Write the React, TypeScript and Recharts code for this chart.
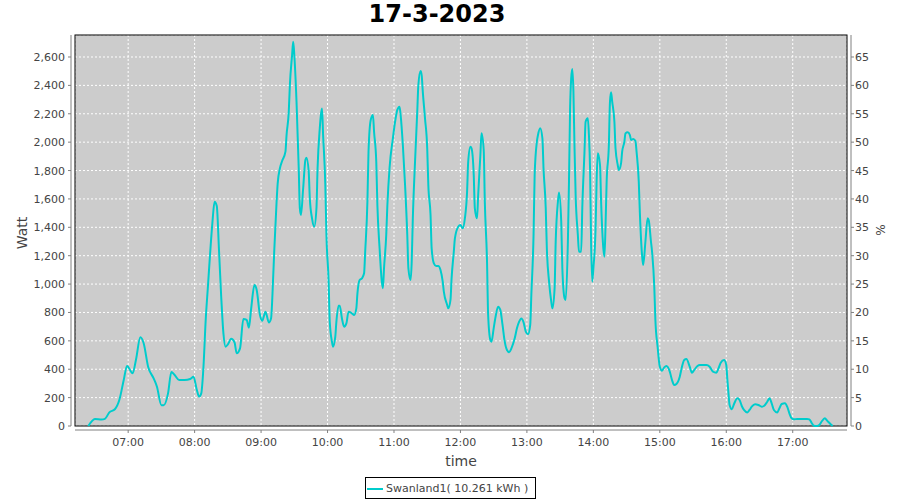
import React from 'react';
import { LineChart, Line, XAxis, YAxis, CartesianGrid, Legend, Customized } from 'recharts';

// minutes since midnight
const minutes = [
  384, 390, 396, 399, 403, 408, 412, 416, 419, 424, 427, 431, 434, 438, 443, 446, 450, 452, 456, 459,
  462, 466, 471, 476, 479, 482, 484, 486, 488, 490, 492, 494, 496, 498, 500, 502, 504, 506, 508, 510,
  513, 516, 518, 521, 524, 527, 529, 531, 534, 536, 539, 541, 544, 547, 549, 551, 552, 554, 555, 557,
  559, 562, 563, 565, 566, 568, 569, 570, 572, 574, 575, 576, 578, 580, 581, 583, 584, 586, 588, 590,
  591, 593, 594, 595, 596, 598, 599, 601, 602, 604, 605, 607, 608, 610, 611, 613, 615, 617, 619, 622,
  624, 626, 627, 629, 631, 633, 634, 636, 637, 639, 641, 642, 644, 645, 647, 649, 650, 651, 653, 654,
  656, 659, 661, 663, 665, 666, 668, 670, 672, 673, 675, 676, 677, 679, 681, 682, 684, 685, 686, 688,
  690, 691, 693, 694, 696, 698, 700, 702, 704, 705, 708, 709, 711, 712, 714, 715, 718, 720, 722, 724,
  726, 727, 729, 730, 732, 733, 735, 736, 738, 739, 741, 742, 744, 745, 747, 748, 750, 752, 754, 756,
  758, 760, 762, 764, 766, 769, 771, 773, 775, 777, 779, 781, 783, 784, 786, 787, 789, 790, 792, 794,
  795, 797, 798, 800, 802, 803, 805, 806, 808, 809, 811, 812, 814, 815, 817, 818, 819, 820, 821, 822,
  823, 824, 826, 827, 829, 830, 832, 833, 835, 836, 837, 838, 839, 840, 842, 843, 844, 846, 847, 849,
  850, 851, 852, 854, 855, 856, 857, 859, 860, 862, 863, 865, 866, 868, 869, 871, 873, 874, 876, 878,
  879, 881, 882, 884, 885, 887, 889, 890, 892, 893, 895, 896, 898, 900, 902, 904, 906, 909, 911, 913,
  915, 918, 920, 922, 924, 927, 929, 931, 934, 936, 939, 942, 945, 948, 951, 953, 955, 958, 960, 961,
  962, 963, 965, 967, 970, 972, 974, 976, 979, 981, 983, 986, 989, 992, 994, 997, 999, 1001, 1003, 1006,
  1008, 1010, 1013, 1015, 1017, 1019, 1021, 1024, 1027, 1030, 1033, 1035, 1037, 1039, 1042, 1044, 1046, 1049, 1051, 1054,
  1056,
];

// Watt
const watts = [
  0, 50, 45, 50, 96, 118, 183, 324, 423, 371, 465, 625, 583, 418, 336, 277, 146, 146, 230, 380,
  359, 324, 324, 331, 347, 254, 207, 230, 418, 747, 982, 1217, 1428, 1580, 1550, 1240, 911, 653, 559, 575,
  615, 590, 512, 547, 754, 747, 693, 824, 993, 960, 782, 742, 805, 730, 758, 1064, 1252, 1580, 1710, 1816,
  1867, 1933, 2050, 2215, 2403, 2614, 2708, 2614, 2285, 1816, 1534, 1487, 1675, 1874, 1890, 1792, 1604, 1463, 1404, 1534,
  1816, 2098, 2191, 2238, 2050, 1698, 1346, 1017, 735, 594, 559, 629, 735, 848, 848, 758, 700, 723, 805, 794,
  782, 829, 935, 1029, 1040, 1076, 1228, 1580, 1933, 2156, 2191, 2074, 1862, 1557, 1252, 1017, 970, 1111, 1346, 1550,
  1820, 2027, 2144, 2227, 2250, 2191, 1980, 1698, 1346, 1111, 1029, 1158, 1463, 1862, 2215, 2403, 2501, 2470, 2356, 2168,
  1957, 1698, 1487, 1252, 1146, 1128, 1128, 1099, 1017, 947, 853, 829, 888, 1040, 1228, 1322, 1404, 1416, 1393, 1463,
  1651, 1862, 1968, 1957, 1769, 1534, 1463, 1628, 1909, 2062, 1945, 1580, 1158, 782, 606, 594, 688, 782, 841, 818,
  712, 594, 535, 520, 547, 618, 688, 735, 758, 730, 665, 646, 712, 923, 1346, 1769, 2003, 2050, 2098, 2027,
  1816, 1534, 1252, 1017, 876, 829, 970, 1299, 1580, 1646, 1439, 1111, 900, 888, 1299, 1722, 2238, 2450, 2515, 2356,
  1957, 1628, 1346, 1228, 1228, 1534, 1933, 2144, 2168, 2050, 1816, 1275, 1017, 1111, 1393, 1745, 1921, 1839, 1580, 1252,
  1193, 1416, 1722, 1980, 2285, 2351, 2285, 2144, 1957, 1839, 1804, 1851, 1933, 2003, 2062, 2070, 2050, 2015, 2022, 2008,
  1933, 1722, 1500, 1200, 1134, 1300, 1463, 1450, 1300, 1228, 982, 747, 559, 418, 390, 413, 423, 383, 324, 289,
  296, 347, 418, 465, 472, 418, 376, 394, 423, 430, 430, 430, 418, 383, 376, 406, 446, 465, 430, 324,
  230, 148, 118, 155, 195, 183, 141, 113, 96, 113, 136, 153, 148, 136, 141, 171, 195, 160, 113, 96,
  125, 155, 160, 136, 89, 54, 47, 50, 50, 50, 50, 47, 23, 2, 0, 7, 30, 54, 38, 14,
  0,
];

const hourTicks = [420, 480, 540, 600, 660, 720, 780, 840, 900, 960, 1020];
const wattTicks = [0, 200, 400, 600, 800, 1000, 1200, 1400, 1600, 1800, 2000, 2200, 2400, 2600];
const pctTicks = [0, 5, 10, 15, 20, 25, 30, 35, 40, 45, 50, 55, 60, 65];

const seriesName = 'Swanland1( 10.261 kWh )';
const title = '17-3-2023';

// right axis: 40 W per %
const WATT_PER_PCT = 40;
const data = minutes.map((m, i) => ({ t: m, w: watts[i], p: watts[i] / WATT_PER_PCT }));

const W = 900;
const H = 500;
const PLOT = { left: 75, top: 35, right: 847, bottom: 426 };
const WMAX = 2755;
const FONT = '"DejaVu Sans", sans-serif';
const AXIS = '#808080';
const TXT = '#444444';
const LINE = '#00cccc';

const hhmm = (m: number) =>
  `${String(Math.floor(m / 60)).padStart(2, '0')}:${String(m % 60).padStart(2, '0')}`;

const LeftTick = ({ y, payload }: any) => (
  <g>
    <line x1={PLOT.left - 7} x2={PLOT.left - 4} y1={y} y2={y} stroke={AXIS} />
    <text x={PLOT.left - 10} y={y} dy={4} textAnchor="end" fontSize={11} fontFamily={FONT} fill={TXT}>
      {payload.value.toLocaleString('en-US')}
    </text>
  </g>
);

const RightTick = ({ y, payload }: any) => (
  <g>
    <line x1={PLOT.right + 4} x2={PLOT.right + 7} y1={y} y2={y} stroke={AXIS} />
    <text x={PLOT.right + 8} y={y} dy={4} textAnchor="start" fontSize={11} fontFamily={FONT} fill={TXT}>
      {payload.value}
    </text>
  </g>
);

const BottomTick = ({ x, payload }: any) => (
  <g>
    <line x1={x} x2={x} y1={PLOT.bottom + 4} y2={PLOT.bottom + 7} stroke={AXIS} />
    <text x={x} y={PLOT.bottom + 20} textAnchor="middle" fontSize={11} fontFamily={FONT} fill={TXT}>
      {hhmm(payload.value)}
    </text>
  </g>
);

const Frame = () => (
  <g>
    <rect
      x={PLOT.left}
      y={PLOT.top}
      width={PLOT.right - PLOT.left}
      height={PLOT.bottom - PLOT.top}
      fill="none"
      stroke="#000"
      strokeWidth={1}
    />
    <line x1={PLOT.left - 4} x2={PLOT.left - 4} y1={PLOT.top} y2={PLOT.bottom} stroke={AXIS} />
    <line x1={PLOT.right + 4} x2={PLOT.right + 4} y1={PLOT.top} y2={PLOT.bottom} stroke={AXIS} />
    <line x1={PLOT.left} x2={PLOT.right} y1={PLOT.bottom + 4} y2={PLOT.bottom + 4} stroke={AXIS} />
    <text x={437} y={22} textAnchor="middle" fontSize={24} fontWeight="bold" fontFamily={FONT} fill="#000">
      {title}
    </text>
    <text x={461} y={466} textAnchor="middle" fontSize={14} fontFamily={FONT} fill={TXT}>
      time
    </text>
    <text
      x={27}
      y={233}
      textAnchor="middle"
      fontSize={14}
      fontFamily={FONT}
      fill={TXT}
      transform="rotate(-90 27 233)"
    >
      Watt
    </text>
    <text
      x={885}
      y={230}
      textAnchor="middle"
      fontSize={12}
      fontFamily={FONT}
      fill={TXT}
      transform="rotate(-90 885 230)"
    >
      %
    </text>
  </g>
);

const LegendBox = () => (
  <div
    style={{
      boxSizing: 'border-box',
      width: 171,
      height: 22,
      border: '1px solid #000',
      background: '#fff',
      display: 'flex',
      alignItems: 'center',
      fontFamily: FONT,
      fontSize: 11,
      color: TXT,
    }}
  >
    <svg width={20} height={20} style={{ display: 'block' }}>
      <line x1={1} x2={17} y1={11} y2={11} stroke={LINE} strokeWidth={2} />
    </svg>
    <span style={{ whiteSpace: 'nowrap' }}>{seriesName}</span>
  </div>
);

export default function App() {
  return (
    <div style={{ position: 'absolute', left: 0, top: 0, width: W, height: H, background: '#fff' }}>
      <LineChart width={W} height={H} data={data} margin={{ top: PLOT.top, right: 0, bottom: 0, left: 0 }}>
        <CartesianGrid fill="#cccccc" stroke="#ffffff" strokeDasharray="2 2" yAxisId="w" />
        <XAxis
          dataKey="t"
          type="number"
          domain={[372, 1069]}
          ticks={hourTicks}
          height={H - PLOT.bottom}
          axisLine={false}
          tickLine={false}
          tick={<BottomTick />}
          interval={0}
        />
        <YAxis
          yAxisId="w"
          type="number"
          domain={[0, WMAX]}
          ticks={wattTicks}
          width={PLOT.left}
          axisLine={false}
          tickLine={false}
          tick={<LeftTick />}
          interval={0}
        />
        <YAxis
          yAxisId="pct"
          orientation="right"
          type="number"
          domain={[0, WMAX / WATT_PER_PCT]}
          allowDataOverflow
          includeHidden
          ticks={pctTicks}
          width={W - PLOT.right}
          axisLine={false}
          tickLine={false}
          tick={<RightTick />}
          interval={0}
        />
        <Line
          yAxisId="pct"
          dataKey="p"
          hide
          legendType="none"
          dot={false}
          isAnimationActive={false}
        />
        <Line
          yAxisId="w"
          dataKey="w"
          name={seriesName}
          type="monotone"
          stroke={LINE}
          strokeWidth={2}
          dot={false}
          isAnimationActive={false}
        />
        <Legend
          layout="horizontal"
          verticalAlign="middle"
          align="center"
          content={<LegendBox />}
          wrapperStyle={{ left: 365, top: 477, width: 171, height: 22 }}
        />
        <Customized component={<Frame />} />
      </LineChart>
    </div>
  );
}
